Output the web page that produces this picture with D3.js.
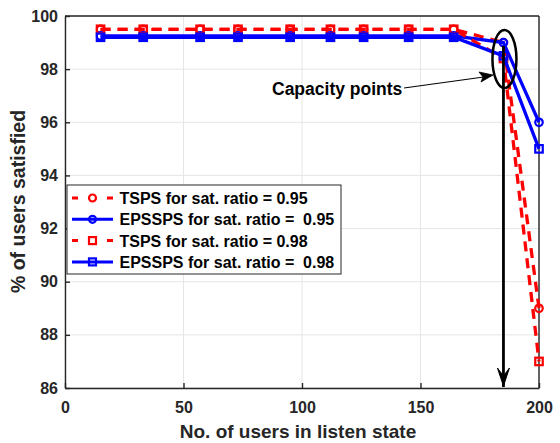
<!DOCTYPE html>
<html>
<head>
<meta charset="utf-8">
<script src="https://cdn.jsdelivr.net/npm/d3@7"></script>
<style>
  html, body { margin: 0; padding: 0; background: #fff; }
  svg { display: block; font-family: "Liberation Sans", Arial, Helvetica, sans-serif; font-weight: bold; }
  text { white-space: pre; }
</style>
</head>
<body>
<svg id="chart" width="560" height="443"></svg>
<script>
// Number of users in listen state
const users = [15, 33, 57, 73, 95, 112, 126, 145, 164, 185, 200];
// % of users satisfied per scheme
const tsps95   = [99.5, 99.5, 99.5, 99.5, 99.5, 99.5, 99.5, 99.5, 99.5, 99.0, 89];
const epssps95 = [99.25, 99.25, 99.25, 99.25, 99.25, 99.25, 99.25, 99.25, 99.25, 99.0, 96];
const tsps98   = [99.5, 99.5, 99.5, 99.5, 99.5, 99.5, 99.5, 99.5, 99.5, 98.4, 87];
const epssps98 = [99.2, 99.2, 99.2, 99.2, 99.2, 99.2, 99.2, 99.2, 99.2, 98.5, 95];
const xTicks = [0, 50, 100, 150, 200];
const yTicks = [86, 88, 90, 92, 94, 96, 98, 100];
const seriesNames = [
  "TSPS for sat. ratio = 0.95",
  "EPSSPS for sat. ratio =  0.95",
  "TSPS for sat. ratio = 0.98",
  "EPSSPS for sat. ratio =  0.98"
];
const capacityUsers = 185;

const series = [
  { name: seriesNames[0], values: tsps95,   color: "#ff0000", dash: "10,7", marker: "circle" },
  { name: seriesNames[1], values: epssps95, color: "#0000ff", dash: null,   marker: "circle" },
  { name: seriesNames[2], values: tsps98,   color: "#ff0000", dash: "10,7", marker: "square" },
  { name: seriesNames[3], values: epssps98, color: "#0000ff", dash: null,   marker: "square" }
];

const svg = d3.select("#chart");
const L = 65, R = 539, T = 16, B = 388;
const x = d3.scaleLinear().domain([0, 200]).range([L, R]);
const y = d3.scaleLinear().domain([86, 100]).range([B, T]);

// grid
const grid = svg.append("g").attr("stroke", "#e6e6e6").attr("stroke-width", 1);
xTicks.forEach(t => grid.append("line").attr("x1", x(t)).attr("x2", x(t)).attr("y1", T).attr("y2", B));
yTicks.forEach(t => grid.append("line").attr("x1", L).attr("x2", R).attr("y1", y(t)).attr("y2", y(t)));

// axes with inward ticks
const xAxis = svg.append("g").attr("transform", `translate(0,${B})`)
  .call(d3.axisBottom(x).tickValues(xTicks).tickSizeInner(-5).tickSizeOuter(0).tickPadding(14));
const yAxis = svg.append("g").attr("transform", `translate(${L},0)`)
  .call(d3.axisLeft(y).tickValues(yTicks).tickSizeInner(-5).tickSizeOuter(0).tickPadding(7));
[xAxis, yAxis].forEach(g => {
  g.selectAll("path").attr("stroke", "#262626").attr("stroke-width", 1.4);
  g.selectAll("line").attr("stroke", "#262626").attr("stroke-width", 1.4);
  g.selectAll("text").attr("fill", "#262626").style("font-size", "16px").style("font-weight", "bold")
    .style("font-family", '"Liberation Sans", Arial, sans-serif');
});
// top and right box edges
svg.append("line").attr("x1", L).attr("x2", R).attr("y1", T).attr("y2", T).attr("stroke", "#262626").attr("stroke-width", 1.4);
svg.append("line").attr("x1", R).attr("x2", R).attr("y1", T).attr("y2", B).attr("stroke", "#262626").attr("stroke-width", 1.4);

// axis titles
svg.append("text").attr("x", (L + R) / 2 - 4).attr("y", 438).attr("text-anchor", "middle")
  .style("font-size", "19px").attr("fill", "#262626").text("No. of users in listen state");
svg.append("text").attr("transform", `translate(25,201.5) rotate(-90)`).attr("text-anchor", "middle")
  .style("font-size", "19.5px").attr("fill", "#262626").text("% of users satisfied");

// series lines and markers
const line = d3.line().x((d, i) => x(users[i])).y(d => y(d));
function drawMarker(g, type, cx, cy, color, size) {
  if (type === "circle") {
    g.append("circle").attr("cx", cx).attr("cy", cy).attr("r", size * 0.5)
      .attr("fill", "none").attr("stroke", color).attr("stroke-width", 2.2);
  } else {
    g.append("rect").attr("x", cx - size / 2).attr("y", cy - size / 2).attr("width", size).attr("height", size)
      .attr("fill", "none").attr("stroke", color).attr("stroke-width", 2.2);
  }
}
series.forEach(s => {
  const g = svg.append("g");
  g.append("path").attr("d", line(s.values)).attr("fill", "none")
    .attr("stroke", s.color).attr("stroke-width", 3.3)
    .attr("stroke-dasharray", s.dash);
  s.values.forEach((v, i) => drawMarker(g, s.marker, x(users[i]), y(v), s.color, 7.5));
});

// capacity annotation: ellipse, arrow to it, and vertical arrow to the x axis
const ann = svg.append("g").attr("stroke", "#000").attr("fill", "none");
ann.append("ellipse").attr("cx", x(capacityUsers) + 1).attr("cy", 59).attr("rx", 12).attr("ry", 29).attr("stroke-width", 2.5);
ann.append("line").attr("x1", x(capacityUsers)).attr("x2", x(capacityUsers)).attr("y1", 46).attr("y2", B - 1).attr("stroke-width", 2.8);
ann.append("path").attr("d", `M${x(capacityUsers) - 6},${B - 20} L${x(capacityUsers)},${B - 2} L${x(capacityUsers) + 6},${B - 20} L${x(capacityUsers)},${B - 12} Z`)
  .attr("fill", "#000").attr("stroke", "#000").attr("stroke-width", 1);
ann.append("line").attr("x1", 404).attr("y1", 88).attr("x2", 491).attr("y2", 76).attr("stroke-width", 1.2);
ann.append("path").attr("d", "M493,75 L479,72 L483,77 L481,82 Z").attr("fill", "#000").attr("stroke-width", 0.8);
svg.append("text").attr("x", 272).attr("y", 95).style("font-size", "17.5px").attr("fill", "#000").text("Capacity points");

// legend
const lg = svg.append("g");
lg.append("rect").attr("x", 67).attr("y", 185).attr("width", 274).attr("height", 89)
  .attr("fill", "#fff").attr("stroke", "#262626").attr("stroke-width", 1);
series.forEach((s, i) => {
  const yy = 198 + i * 21.3;
  lg.append("line").attr("x1", 72).attr("x2", 113).attr("y1", yy).attr("y2", yy)
    .attr("stroke", s.color).attr("stroke-width", 3).attr("stroke-dasharray", s.dash ? "6,29" : null);
  drawMarker(lg, s.marker, 92.5, yy, s.color, 7);
  lg.append("text").attr("x", 119.5).attr("y", yy + 6).style("font-size", "16px").attr("fill", "#000").text(s.name);
});
</script>
</body>
</html>
